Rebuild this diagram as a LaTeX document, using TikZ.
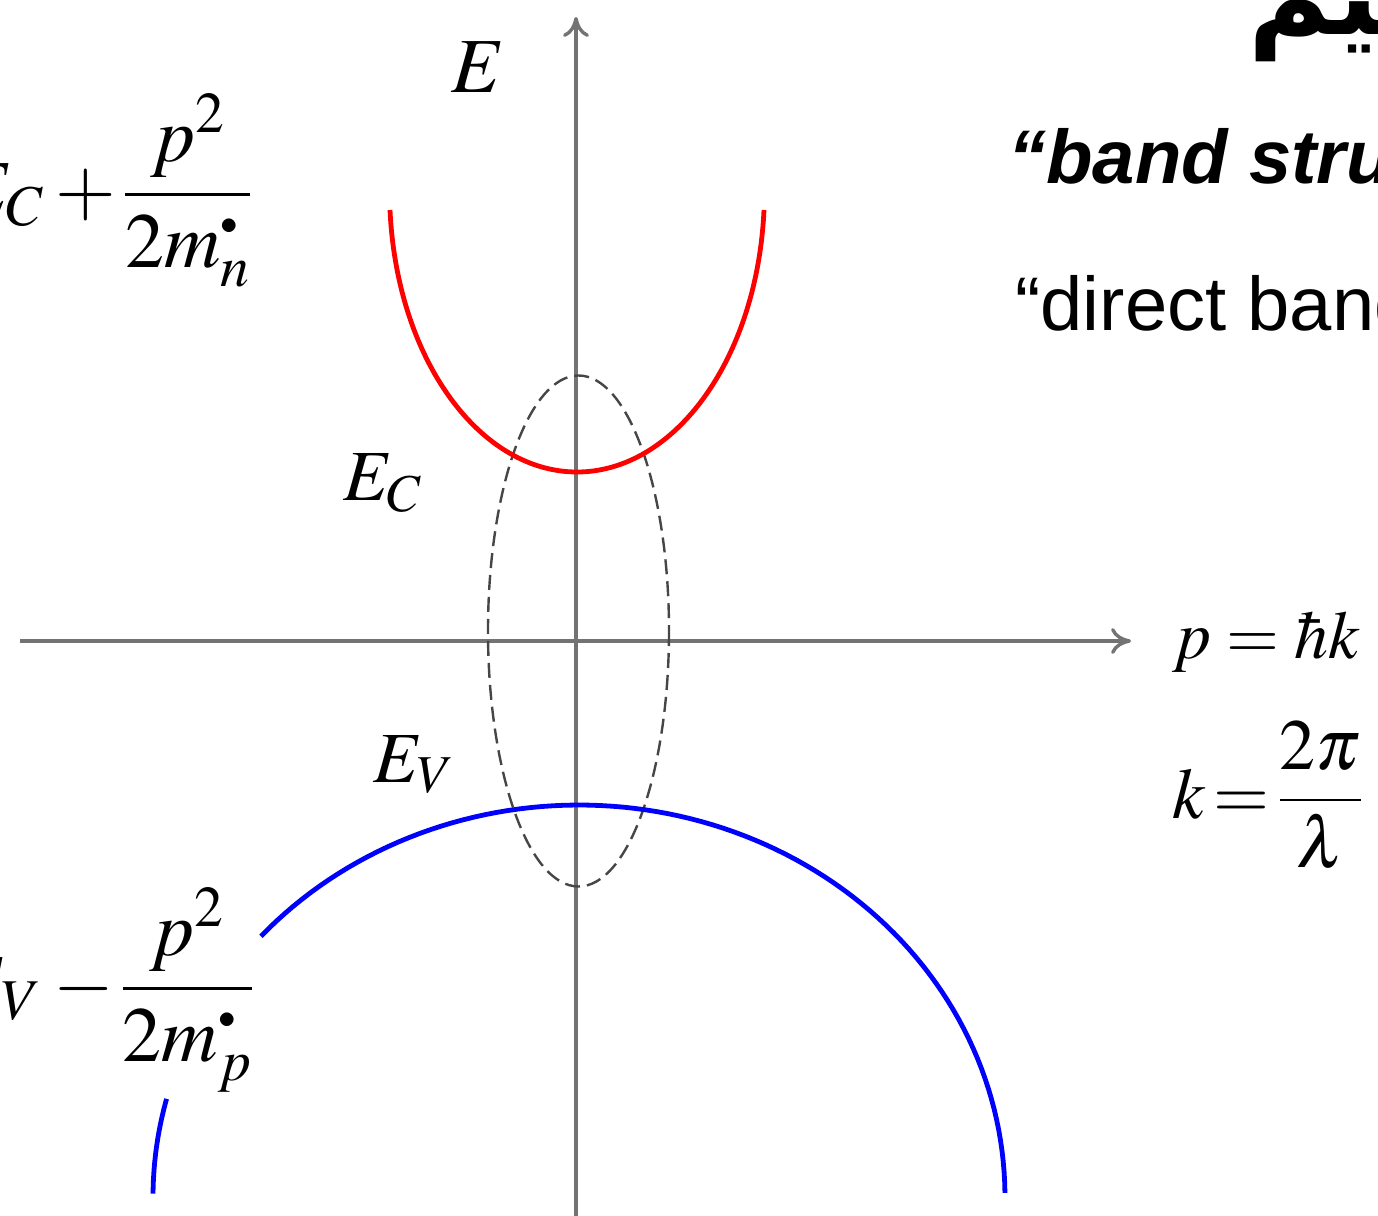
\documentclass[tikz,border=0pt]{standalone}
\usepackage{mathptmx}
\usepackage[no-math]{fontspec}
\newfontfamily\sansf{Liberation Sans}
\newfontfamily\arabicfont[Script=Arabic]{DejaVu Sans}
\TeXXeTstate=1
\usetikzlibrary{arrows.meta}
\definecolor{axisgray}{RGB}{115,115,115}
\definecolor{dashgray}{RGB}{70,70,70}
\definecolor{bandred}{RGB}{255,0,0}
\definecolor{bandblue}{RGB}{0,0,255}
\newcommand{\effdot}{\raisebox{5pt}{\scalebox{0.45}{$\bullet$}}}
\begin{document}
\begin{tikzpicture}[x=0.5pt,y=-0.5pt,
  axisline/.style={line width=1.7pt, draw=axisgray, -{To[length=10pt,width=13pt]}},
  redband/.style={line width=2.4pt, draw=bandred},
  blueband/.style={line width=2.4pt, draw=bandblue},
  dashell/.style={line width=1.2pt, draw=dashgray, dash pattern=on 7.5pt off 3.5pt},
  mathlbl/.style={inner sep=0pt, font=\fontsize{36}{40}\selectfont},
  smallmath/.style={inner sep=0pt, font=\fontsize{34}{38}\selectfont},
  bigmath/.style={inner sep=0pt, font=\fontsize{39}{44}\selectfont},
  sanslbl/.style={inner sep=0pt, font=\sansf\fontsize{38}{44}\selectfont}]
\useasboundingbox (0,0) rectangle (1378,1216);
\clip (0,0) rectangle (1378,1216);
% axes
\coordinate (ybot) at (576,1230);
\coordinate (ytop) at (576,17);
\coordinate (xleft) at (20,641);
\coordinate (xright) at (1131,641);
\draw[axisline] (ybot) -- (ytop);
\draw[axisline] (xleft) -- (xright);
% dashed ellipse
\coordinate (ellc) at (578.5,631);
\draw[dashell] (ellc) ellipse [x radius=90.5, y radius=255.5];
% conduction band
\coordinate (cbl) at (390,210);
\coordinate (cbm) at (577,472);
\coordinate (cbr) at (764,210);
\draw[redband] (cbl) .. controls (397,360) and (480,472) .. (cbm)
  .. controls (674,472) and (757,360) .. (cbr);
% valence band
\draw[blueband] plot[domain=0.6:138.3, samples=90] ({579+426*cos(\x)},{1197-392*sin(\x)});
\draw[blueband] plot[domain=165.5:179.5, samples=20] ({579+426*cos(\x)},{1197-392*sin(\x)});
% labels
\node[bigmath, anchor=base] (Elbl) at (478,92) {$E$};
\node[mathlbl, anchor=base west] (EC) at (343,500) {$E_C$};
\node[mathlbl, anchor=base west] (EV) at (373,782) {$E_V$};
\node[bigmath, anchor=base east] (ECf) at (253,214) {$E_C+\mkern-1mu\displaystyle\frac{p^2}{2m_n^{\effdot}}$};
\node[bigmath, anchor=base east] (EVf) at (255,1008) {$E_V-\mkern-1mu\displaystyle\frac{p^2}{2m_p^{\effdot}}$};
\node[smallmath, anchor=base west] (phk) at (1172,658) {$p=\hbar k$};
\node[mathlbl, anchor=base west] (kdef) at (1172,818) {$k\mkern-2mu=\mkern-2mu\displaystyle\frac{2\pi}{\lambda}$};
\node[sanslbl, anchor=base west] (band) at (1008,183) {\bfseries\itshape “band structure”};
\node[sanslbl, anchor=base west] (direct) at (1015,330) {“direct band gap”};
\node[inner sep=0pt, anchor=base west, font=\arabicfont\bfseries\fontsize{56}{64}\selectfont] (arab) at (1248,34) {\beginR تعليم\endR};
\end{tikzpicture}
\end{document}
